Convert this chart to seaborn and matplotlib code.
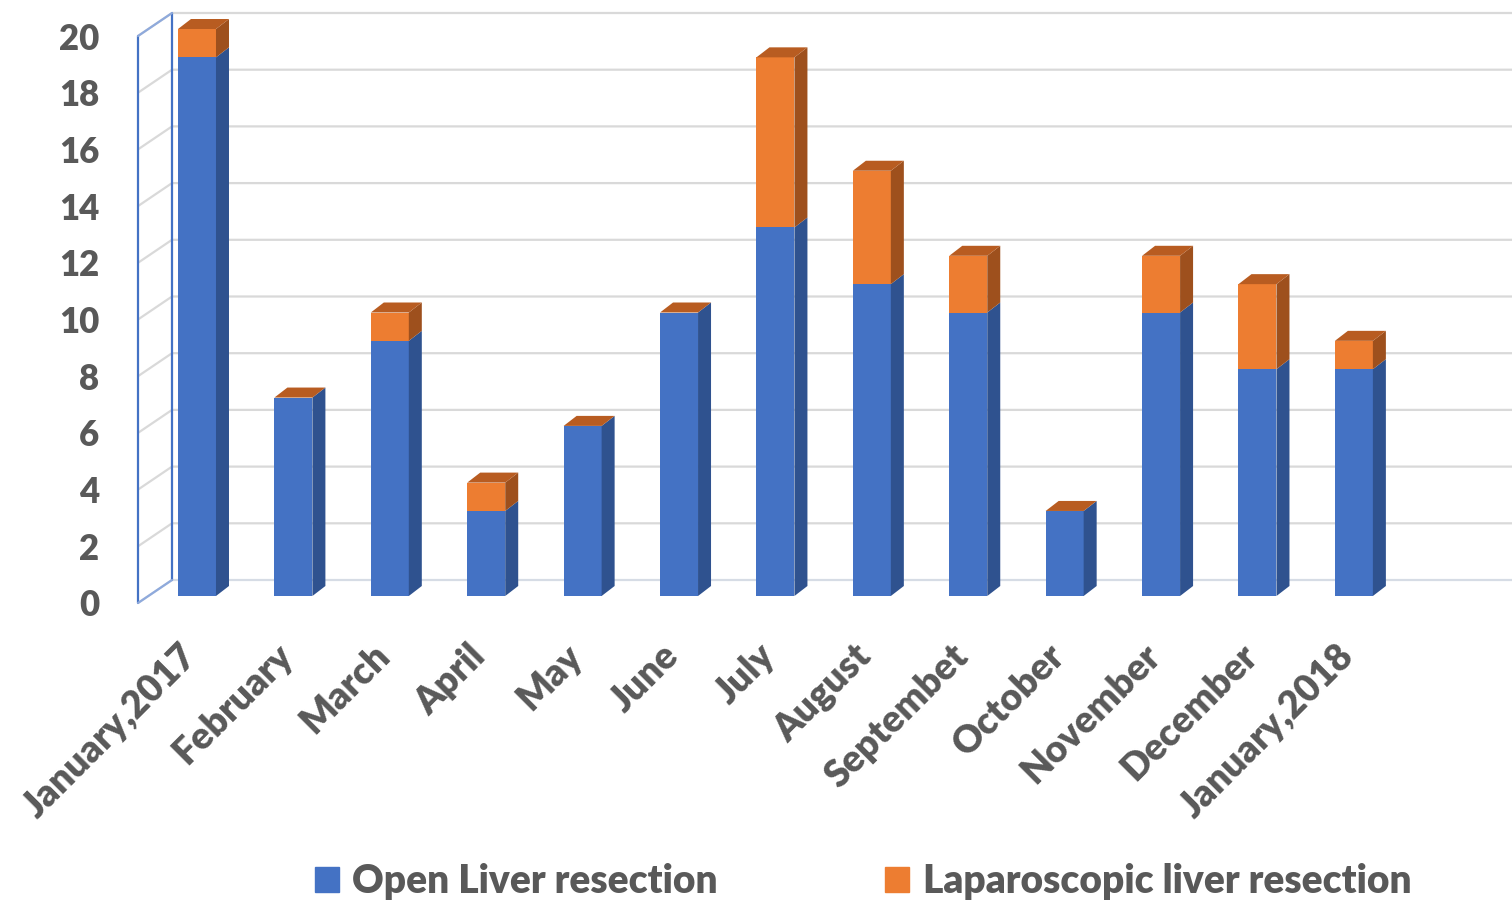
import numpy as np
import pandas as pd
import seaborn as sns
import matplotlib.pyplot as plt
from matplotlib.patches import Polygon, Patch

# data
months = ["January,2017", "February", "March", "April", "May", "June", "July",
          "August", "Septembet", "October", "November", "December", "January,2018"]
open_resection = [19, 7, 9, 3, 6, 10, 13, 11, 10, 3, 10, 8, 8]
lap_resection = [1, 0, 1, 1, 0, 0, 6, 4, 2, 0, 2, 3, 1]
yticks = list(range(0, 21, 2))

BLUE, BLUE_SIDE = "#4472C4", "#2F528F"
ORANGE, ORANGE_SIDE, TOP = "#ED7D31", "#9E501D", "#B85C21"
TEXT = "#595959"
GRID = "#D9D9D9"
WALL = "#4472C4"
WEIGHT = 800

sns.set_theme(style="white")
plt.rcParams["font.family"] = ["Lato", "DejaVu Sans"]

df = pd.DataFrame({"month": months, "open": open_resection, "lap": lap_resection})
df["total"] = df["open"] + df["lap"]

fig = plt.figure(figsize=(15.12, 9.02), dpi=100)
# y from -1 to 20 so the shifted "0" label stays inside the view
ax = fig.add_axes([138 / 1512, 277.65 / 902, 1374 / 1512, 595.35 / 902])

#%% front faces (stacked by overdrawing the total with the open part)
sns.barplot(data=df, x="month", y="total", color=ORANGE, saturation=1, width=0.394,
            linewidth=0, errorbar=None, ax=ax, zorder=3)
sns.barplot(data=df, x="month", y="open", color=BLUE, saturation=1, width=0.394,
            linewidth=0, errorbar=None, ax=ax, zorder=3)
ax.set_xlim(-0.612, 13.64)
ax.set_ylim(-1, 20)

# pixel -> data helpers for the fake 3d depth
bb = ax.get_window_extent()
ux = (ax.get_xlim()[1] - ax.get_xlim()[0]) / bb.width
uy = (ax.get_ylim()[1] - ax.get_ylim()[0]) / bb.height
ddx, ddy = 13 * ux, 10 * uy

#%% side and top faces
for p, o, t in zip(ax.patches[:len(months)], df["open"], df["total"]):
    x0 = p.get_x()
    x1 = x0 + p.get_width()
    ax.add_patch(Polygon([(x1, 0), (x1 + ddx, ddy), (x1 + ddx, o + ddy), (x1, o)],
                         closed=True, color=BLUE_SIDE, lw=0, zorder=3, clip_on=False))
    if t > o:
        ax.add_patch(Polygon([(x1, o), (x1 + ddx, o + ddy), (x1 + ddx, t + ddy), (x1, t)],
                             closed=True, color=ORANGE_SIDE, lw=0, zorder=3, clip_on=False))
    ax.add_patch(Polygon([(x0, t), (x0 + ddx, t + ddy), (x1 + ddx, t + ddy), (x1, t)],
                         closed=True, color=TOP, lw=0, zorder=3, clip_on=False))

#%% back wall grid and side wall
xa, xe = ax.get_xlim()
xb = xa + 34 * ux
front = lambda v: v - 7 * uy
back = lambda v: v + 16 * uy
for v in yticks:
    c = "#D6DCE5" if v == 0 else GRID
    ax.plot([xa, xb, xe], [front(v), back(v), back(v)], color=c, lw=1.6,
            clip_on=False, zorder=1, solid_capstyle="butt")
ax.plot([xa, xa], [front(0), front(20)], color=WALL, lw=1.6, clip_on=False, zorder=2)
ax.plot([xb, xb], [back(0), back(20)], color=WALL, lw=1.6, clip_on=False, zorder=2)
ax.plot([xa, xb], [front(20), back(20)], color="#8FAADC", lw=1.6, clip_on=False, zorder=2)
ax.plot([xa, xb], [front(0), back(0)], color="#8FAADC", lw=1.6, clip_on=False, zorder=2)

#%% axes cosmetics
for s in ax.spines.values():
    s.set_visible(False)
ax.set_xlabel("")
ax.set_ylabel("")
# labels sit on the front edge of the side wall, a few px below the bar plane
ax.set_yticks([front(v) for v in yticks], [str(v) for v in yticks],
              fontsize=25, fontweight=WEIGHT, color=TEXT)
ax.set_xticks([i - 18 * ux for i in range(len(months))], months, rotation=45, ha="right",
              rotation_mode="anchor", fontsize=27, fontweight=WEIGHT, color=TEXT)
ax.set_ylim(-1, 20)
ax.set_xlim(xa, xe)
ax.tick_params(axis="y", length=0, pad=28)
ax.tick_params(axis="x", length=0, pad=10)

handles = [Patch(color=BLUE, label="Open Liver resection"),
           Patch(color=ORANGE, label="Laparoscopic liver resection")]
fig.legend(handles=handles, loc="center", bbox_to_anchor=(863 / 1512, 20 / 902), ncol=2,
           frameon=False, prop={"weight": WEIGHT, "size": 28}, labelcolor=TEXT,
           handlelength=0.62, handleheight=0.62, handletextpad=0.35, columnspacing=4.3)

fig.savefig("out.png", dpi=100)
